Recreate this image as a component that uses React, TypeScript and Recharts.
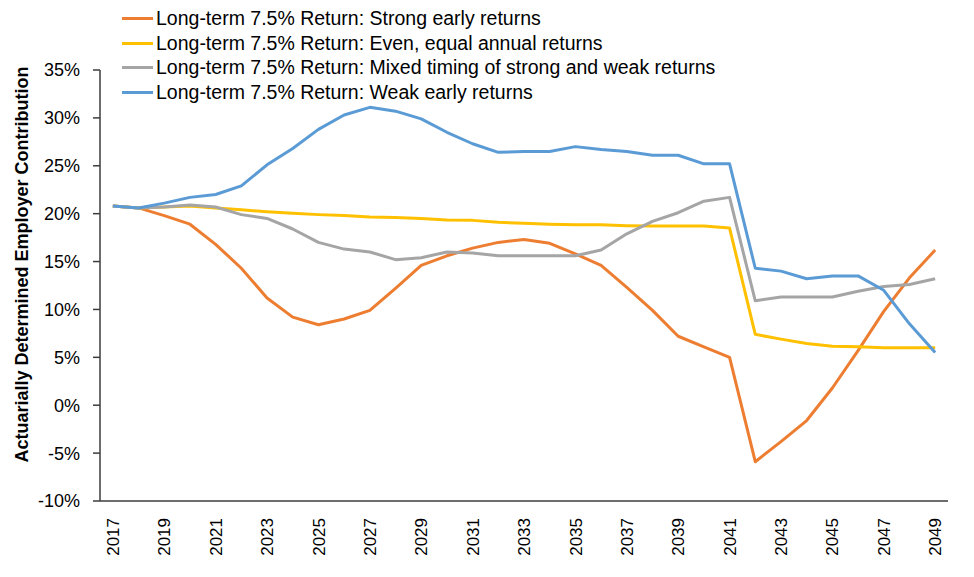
import React from 'react';
import { LineChart, Line, XAxis, YAxis, Legend } from 'recharts';

// Plan years (one category per year)
const years = [
  2017, 2018, 2019, 2020, 2021, 2022, 2023, 2024, 2025, 2026, 2027,
  2028, 2029, 2030, 2031, 2032, 2033, 2034, 2035, 2036, 2037, 2038,
  2039, 2040, 2041, 2042, 2043, 2044, 2045, 2046, 2047, 2048, 2049,
];

// Years that carry a label on the horizontal axis
const labelYears = [
  2017, 2019, 2021, 2023, 2025, 2027, 2029, 2031, 2033, 2035, 2037,
  2039, 2041, 2043, 2045, 2047, 2049,
];

// Percentage ticks on the vertical axis
const percentTicks = [-10, -5, 0, 5, 10, 15, 20, 25, 30, 35];

// Actuarially determined employer contribution, % of payroll
const strongEarly = [
  20.8, 20.6, 19.8, 18.9, 16.8, 14.3, 11.2, 9.2, 8.4, 9.0, 9.9,
  12.2, 14.6, 15.6, 16.4, 17.0, 17.3, 16.9, 15.8, 14.6, 12.3, 9.9,
  7.2, 6.1, 5.0, -5.9, -3.8, -1.6, 1.8, 5.7, 9.8, 13.3, 16.2,
];
const evenReturns = [
  20.8, 20.6, 20.7, 20.8, 20.6, 20.4, 20.2, 20.05, 19.9, 19.8, 19.65,
  19.6, 19.5, 19.35, 19.3, 19.1, 19.0, 18.9, 18.85, 18.85, 18.75, 18.7,
  18.7, 18.7, 18.5, 7.4, 6.9, 6.45, 6.15, 6.1, 6.0, 6.0, 6.0,
];
const mixedTiming = [
  20.8, 20.6, 20.7, 20.9, 20.7, 19.9, 19.5, 18.4, 17.0, 16.3, 16.0,
  15.2, 15.4, 16.0, 15.9, 15.6, 15.6, 15.6, 15.6, 16.2, 17.9, 19.2,
  20.1, 21.3, 21.7, 10.9, 11.3, 11.3, 11.3, 11.9, 12.4, 12.6, 13.2,
];
const weakEarly = [
  20.8, 20.6, 21.1, 21.7, 22.0, 22.9, 25.1, 26.8, 28.8, 30.3, 31.1,
  30.7, 29.9, 28.5, 27.3, 26.4, 26.5, 26.5, 27.0, 26.7, 26.5, 26.1,
  26.1, 25.2, 25.2, 14.3, 14.0, 13.2, 13.5, 13.5, 12.0, 8.5, 5.5,
];

const seriesKeys = ['strong', 'even', 'mixed', 'weak'];
const seriesNames: Record<string, string> = {
  strong: 'Long-term 7.5% Return: Strong early returns',
  even: 'Long-term 7.5% Return: Even, equal annual returns',
  mixed: 'Long-term 7.5% Return: Mixed timing of strong and weak returns',
  weak: 'Long-term 7.5% Return: Weak early returns',
};
const seriesColors: Record<string, string> = {
  strong: '#ED7D31',
  even: '#FFC000',
  mixed: '#A5A5A5',
  weak: '#5B9BD5',
};

const data = years.map((year, i) => ({
  year,
  strong: strongEarly[i],
  even: evenReturns[i],
  mixed: mixedTiming[i],
  weak: weakEarly[i],
}));

// Each year occupies a one-year slot; tick marks sit on the slot edges
const yearDomain: [number, number] = [years[0] - 0.5, years[years.length - 1] + 0.5];
const yearEdges = [...years.map((y) => y - 0.5), years[years.length - 1] + 0.5];

const FONT = '"Liberation Sans", Arial, sans-serif';
const AXIS_COLOR = '#3c3c3c';

const YearTick = (props: any) => {
  const { x, y, payload } = props;
  return (
    <text
      transform={`translate(${x},${y}) rotate(-90)`}
      textAnchor="end"
      dy="0.36em"
      fontSize={17}
      fontFamily={FONT}
      fill="#000"
    >
      {payload.value}
    </text>
  );
};

const AxisTitle = (props: any) => {
  const vb = props.viewBox || { x: 0, y: 0, width: 0, height: 0 };
  const cx = vb.x + 22;
  const cy = vb.y + vb.height / 2 - 21;
  return (
    <text
      transform={`translate(${cx},${cy}) rotate(-90)`}
      textAnchor="middle"
      dy="0.36em"
      fontSize={18}
      fontWeight="bold"
      fontFamily={FONT}
      fill="#000"
    >
      Actuarially Determined Employer Contribution
    </text>
  );
};

const LegendRows = (props: any) => {
  const { payload = [] } = props;
  const ordered = [...payload].sort(
    (a: any, b: any) => seriesKeys.indexOf(a.dataKey) - seriesKeys.indexOf(b.dataKey),
  );
  return (
    <div style={{ fontFamily: FONT, fontSize: 19.5, color: '#000' }}>
      {ordered.map((entry: any) => (
        <div
          key={entry.value}
          style={{ display: 'flex', alignItems: 'center', height: 24.8, whiteSpace: 'nowrap' }}
        >
          <span
            style={{
              display: 'inline-block',
              width: 31,
              height: 3,
              background: entry.color,
              marginRight: 3,
            }}
          />
          <span>{entry.value}</span>
        </div>
      ))}
    </div>
  );
};

export default function App() {
  return (
    <div style={{ position: 'absolute', left: 0, top: 0, background: '#fff' }}>
      <LineChart
        width={974}
        height={577}
        data={data}
        margin={{ top: 70, right: 26, bottom: 74, left: 0 }}
        style={{ fontFamily: FONT }}
      >
        <XAxis
          xAxisId="edges"
          dataKey="year"
          type="number"
          domain={yearDomain}
          ticks={yearEdges}
          interval={0}
          tick={false}
          height={1}
          tickSize={7}
          axisLine={{ stroke: AXIS_COLOR, strokeWidth: 1.5 }}
          tickLine={{ stroke: AXIS_COLOR, strokeWidth: 1.5 }}
          allowDataOverflow
        />
        <XAxis
          xAxisId="years"
          dataKey="year"
          type="number"
          domain={yearDomain}
          ticks={labelYears}
          interval={0}
          height={1}
          tickSize={0}
          tickMargin={16}
          axisLine={false}
          tickLine={false}
          tick={<YearTick />}
          allowDataOverflow
        />
        <YAxis
          type="number"
          width={100}
          domain={[percentTicks[0], percentTicks[percentTicks.length - 1]]}
          ticks={percentTicks}
          interval={0}
          tickFormatter={(v: number) => `${v}%`}
          tickSize={7}
          tickMargin={13}
          tick={{ fontSize: 18, fill: '#000', fontFamily: FONT }}
          axisLine={{ stroke: AXIS_COLOR, strokeWidth: 1.5 }}
          tickLine={{ stroke: AXIS_COLOR, strokeWidth: 1.5 }}
          label={(p: any) => <AxisTitle {...p} />}
        />
        <Legend
          layout="horizontal"
          align="center"
          verticalAlign="middle"
          content={<LegendRows />}
          wrapperStyle={{ left: 122, top: 6, width: 800, height: 100 }}
        />
        {seriesKeys.map((key) => (
          <Line
            key={key}
            xAxisId="years"
            type="linear"
            dataKey={key}
            name={seriesNames[key]}
            stroke={seriesColors[key]}
            strokeWidth={3}
            strokeLinejoin="round"
            dot={false}
            isAnimationActive={false}
          />
        ))}
      </LineChart>
    </div>
  );
}
